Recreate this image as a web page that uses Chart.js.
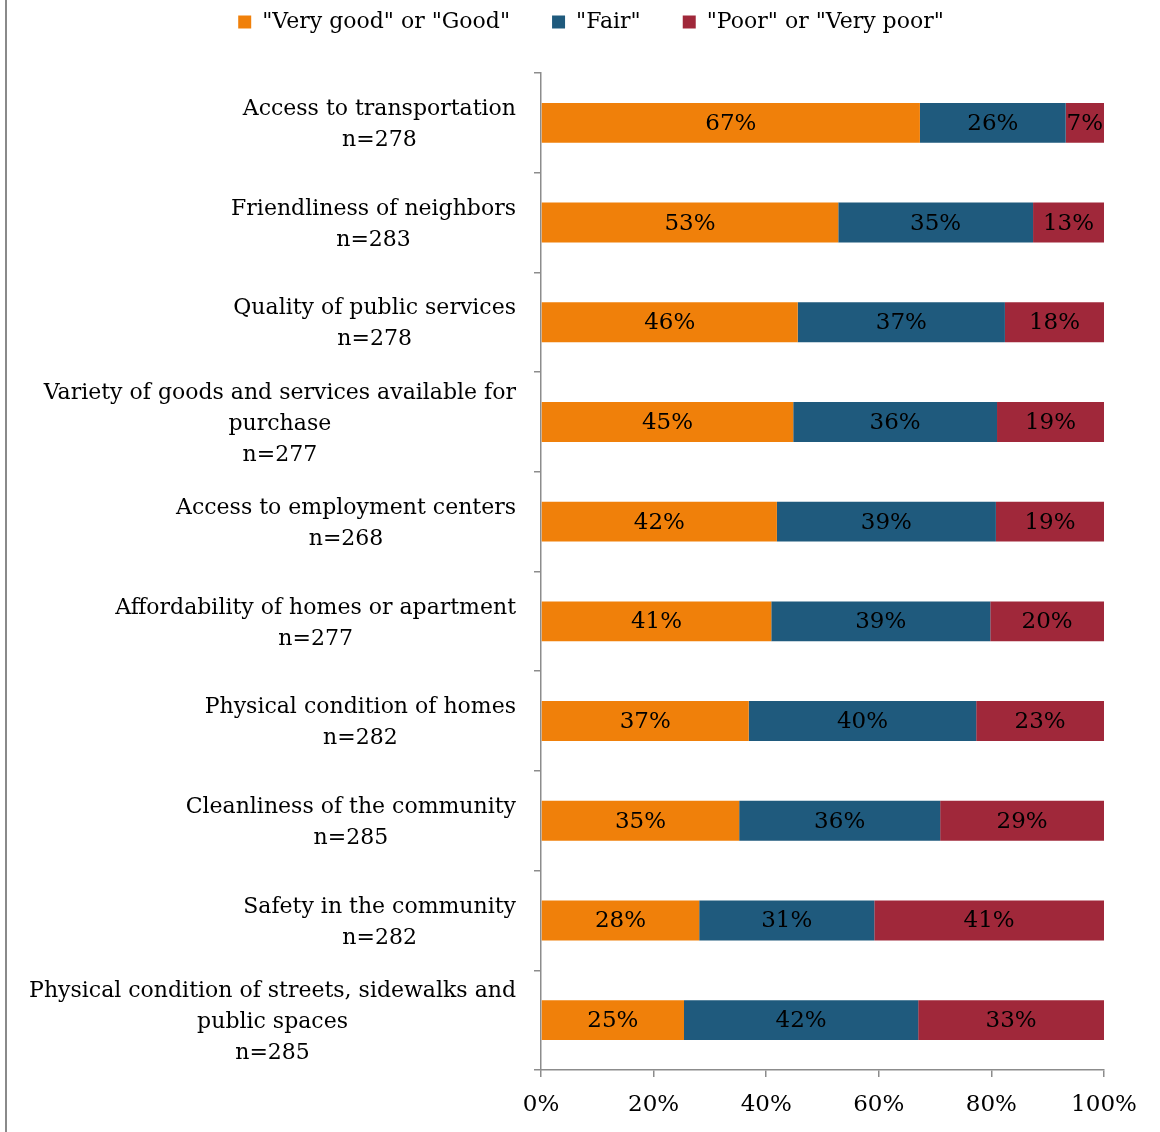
<!DOCTYPE html>
<html>
<head>
<meta charset="utf-8">
<title>Neighborhood ratings</title>
<script src="https://cdn.jsdelivr.net/npm/chart.js@4/dist/chart.umd.min.js"></script>
<style>
    html, body { margin: 0; padding: 0; background: #fff; }
    #wrap { position: relative; width: 1160px; height: 1132px; }
</style>
</head>
<body>
<div id="wrap"><canvas id="myChart" width="1160" height="1132"></canvas></div>
<script>
// Category names (already wrapped into lines) and sample sizes
const categories = [
    ['Access to transportation'],
    ['Friendliness of neighbors'],
    ['Quality of public services'],
    ['Variety of goods and services available for', 'purchase'],
    ['Access to employment centers'],
    ['Affordability of homes or apartment'],
    ['Physical condition of homes'],
    ['Cleanliness of the community'],
    ['Safety in the community'],
    ['Physical condition of streets, sidewalks and', 'public spaces']
];
const sampleSizes = [278, 283, 278, 277, 268, 277, 282, 285, 282, 285];

// Share of responses (%)
const veryGoodOrGood = [67.3, 52.8, 45.6, 44.8, 41.9, 40.9, 36.9, 35.2, 28.1, 25.4];
const fair = [25.9, 34.6, 36.8, 36.2, 38.9, 38.9, 40.4, 35.7, 31.1, 41.6];
const poorOrVeryPoor = [6.8, 12.6, 17.6, 19.0, 19.2, 20.2, 22.7, 29.1, 40.8, 33.0];

const xTicks = [0, 20, 40, 60, 80, 100];

const FONT = 'DejaVu Serif';
const FONT_SIZE = 23;
const LABEL_SIZE = 22;
const AXIS_COLOR = '#8c8c8c';
const PLOT_TOP = 73;
const LEGEND_GAP = 42;
const LEGEND_SHIFT_X = 39;
const LEGEND_SHIFT_Y = -31;

// Percent labels in the middle of each segment
const segmentLabels = {
    id: 'segmentLabels',
    afterDatasetsDraw(chart) {
        const ctx = chart.ctx;
        ctx.save();
        ctx.font = `${FONT_SIZE}px "${FONT}"`;
        ctx.fillStyle = '#000';
        ctx.textAlign = 'center';
        ctx.textBaseline = 'middle';
        chart.data.datasets.forEach((ds, di) => {
            const meta = chart.getDatasetMeta(di);
            meta.data.forEach((bar, i) => {
                const x = (bar.x + bar.base) / 2;
                ctx.fillText(Math.round(ds.data[i]) + '%', x, bar.y + 1);
            });
        });
        ctx.restore();
    }
};

// Category labels: each block centred on itself, blocks right-aligned to the axis
const categoryLabels = {
    id: 'categoryLabels',
    afterDraw(chart) {
        const ctx = chart.ctx;
        const yScale = chart.scales.y;
        const lineHeight = 31;
        const rightEdge = yScale.right - 25;
        ctx.save();
        ctx.font = `${LABEL_SIZE}px "${FONT}"`;
        ctx.fillStyle = '#000';
        ctx.textAlign = 'center';
        ctx.textBaseline = 'middle';
        categories.forEach((lines, i) => {
            const all = lines.concat('n=' + sampleSizes[i]);
            const widest = Math.max(...all.map(l => ctx.measureText(l).width));
            const cx = rightEdge - widest / 2;
            const cy = yScale.getPixelForValue(i) + 2;
            const top = cy - (all.length - 1) * lineHeight / 2;
            all.forEach((line, k) => ctx.fillText(line, cx, top + k * lineHeight));
        });
        ctx.restore();
    }
};

// Frame line along the left edge
const frameLine = {
    id: 'frameLine',
    beforeDraw(chart) {
        const ctx = chart.ctx;
        ctx.save();
        ctx.strokeStyle = '#8a8a8a';
        ctx.lineWidth = 2;
        ctx.beginPath();
        ctx.moveTo(6, 0);
        ctx.lineTo(6, chart.height);
        ctx.stroke();
        ctx.restore();
    }
};

// Legend block: fixed height so the plot starts at PLOT_TOP,
// items nudged up and over the plot area's centre
const legendLayout = {
    id: 'legendLayout',
    beforeInit(chart) {
        const legend = chart.legend;
        const fit = legend.fit;
        legend.fit = function () {
            fit.call(this);
            this.height = PLOT_TOP;
        };
        const draw = legend.draw;
        legend.draw = function () {
            this.ctx.save();
            this.ctx.translate(LEGEND_SHIFT_X, LEGEND_SHIFT_Y);
            draw.call(this);
            this.ctx.restore();
        };
    }
};

const ctx = document.getElementById('myChart').getContext('2d');
const myChart = new Chart(ctx, {
    type: 'bar',
    data: {
        labels: categories.map(l => l.join(' ')),
        datasets: [
            { label: '"Very good" or "Good"', data: veryGoodOrGood, backgroundColor: '#f0800a' },
            { label: '"Fair"', data: fair, backgroundColor: '#1f5a7d' },
            { label: '"Poor" or "Very poor"', data: poorOrVeryPoor, backgroundColor: '#a0283a' }
        ]
    },
    options: {
        indexAxis: 'y',
        responsive: false,
        animation: false,
        layout: { padding: { top: 0, right: 56, bottom: 0, left: 0 } },
        datasets: {
            bar: { barPercentage: 0.8, categoryPercentage: 0.5, borderWidth: 0 }
        },
        plugins: {
            legend: {
                position: 'top',
                labels: {
                    color: '#000',
                    font: { family: FONT, size: LABEL_SIZE },
                    boxWidth: 13,
                    boxHeight: 13,
                    padding: LEGEND_GAP
                }
            },
            tooltip: { enabled: false }
        },
        scales: {
            x: {
                stacked: true,
                min: 0,
                max: 100,
                afterBuildTicks(scale) {
                    scale.ticks = xTicks.map(v => ({ value: v }));
                },
                afterFit(scale) { scale.height = 62; },
                border: { color: AXIS_COLOR, width: 1.5 },
                grid: { drawOnChartArea: false, color: AXIS_COLOR, tickLength: 7, lineWidth: 1.5 },
                ticks: {
                    color: '#000',
                    font: { family: FONT, size: FONT_SIZE },
                    padding: 14,
                    maxRotation: 0,
                    callback: v => v + '%'
                }
            },
            y: {
                stacked: true,
                afterFit(scale) { scale.width = 541; },
                border: { color: AXIS_COLOR, width: 1.5 },
                grid: { drawOnChartArea: false, color: AXIS_COLOR, tickLength: 7, lineWidth: 1.5, offset: true },
                ticks: { display: false }
            }
        }
    },
    plugins: [legendLayout, frameLine, segmentLabels, categoryLabels]
});
</script>
</body>
</html>
